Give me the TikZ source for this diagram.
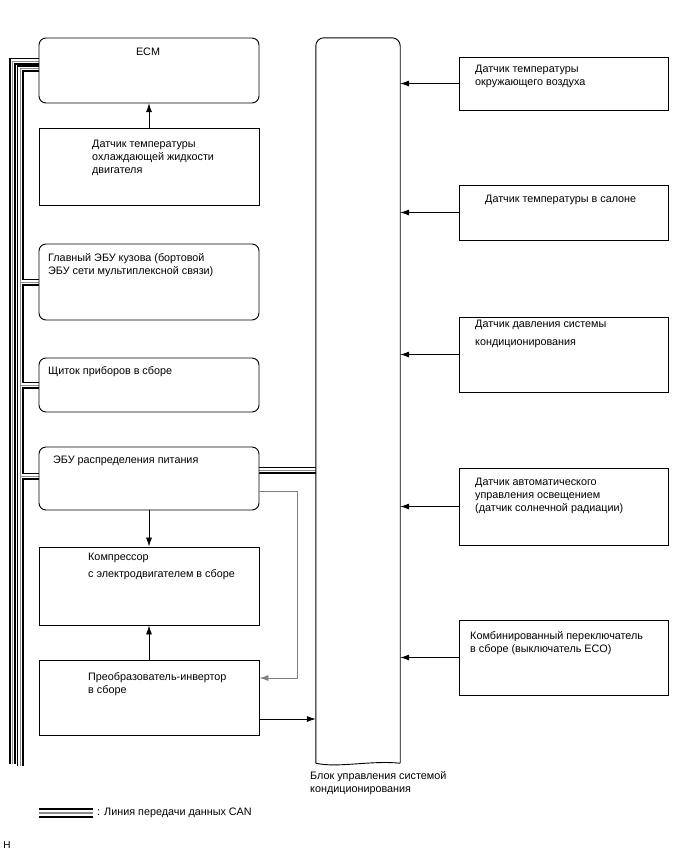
\documentclass[tikz,border=0pt]{standalone}
\usepackage{fontspec}
\setmainfont{Liberation Sans}
\usetikzlibrary{arrows.meta,calc}
\begin{document}
\begin{tikzpicture}[x=1pt,y=-1pt,
  box/.style={draw, line width=0.9pt, fill=white, inner sep=0, minimum width=220pt},
  rbox/.style={box, rounded corners=7pt},
  sbox/.style={draw, line width=0.9pt, fill=white, inner sep=0, minimum width=209pt},
  lbl/.style={anchor=north west, inner sep=0, align=left, font=\fontsize{10.8}{13}\selectfont},
  arr/.style={line width=0.8pt, -{Latex[length=9pt,width=6pt]}},
  garr/.style={line width=0.8pt, draw=black!50, -{Latex[length=9pt,width=6pt]}},
  canline/.style={line width=7pt, black, line join=miter,
     postaction={draw, white, line width=3.4pt, line join=miter},
     postaction={draw, black!45, line width=1pt, line join=miter}},
  legendline/.style={line width=9.4pt, black,
     postaction={draw, white, line width=5.4pt},
     postaction={draw, black!45, line width=1.4pt}},
]
\useasboundingbox[fill=white] (0,0) rectangle (688,852);

% reference nodes (positions only)
\node[inner sep=0, minimum width=220pt, minimum height=65pt] (ecm) at (149,70.5) {};
\node[inner sep=0, minimum width=220pt, minimum height=76pt] (body) at (149,282) {};
\node[inner sep=0, minimum width=220pt, minimum height=54pt] (meter) at (149,385) {};
\node[inner sep=0, minimum width=220pt, minimum height=63pt] (pdu) at (149,478.5) {};
\node[inner sep=0, minimum width=84pt, minimum height=725pt] (ac) at (358,400.5) {};

\coordinate (busO) at (12.5,0);
\coordinate (busI) at (20,0);
\coordinate (endO) at (12.5,764);
\coordinate (endI) at (20,766);
\coordinate (pdL) at ([yshift=2.5pt]pdu.west);
\coordinate (pdR) at ([yshift=8.5pt]pdu.east);

% CAN buses
\draw[canline] ([yshift=9.5pt]ecm.west) -| (endO)
  ([yshift=2pt]ecm.west) -| (endI)
  (body.west) -- (busI |- body.west)
  (meter.west) -- (busI |- meter.west)
  (pdL) -- (busI |- pdL)
  (pdR) -- (ac.west |- pdR);

% boxes
\node[rbox, minimum height=65pt] at (ecm) {};
\node[box, minimum height=77pt] (cool) at (149,166.5) {};
\node[rbox, minimum height=76pt] at (body) {};
\node[rbox, minimum height=54pt] at (meter) {};
\node[rbox, minimum height=63pt] at (pdu) {};
\node[box, minimum height=78pt] (comp) at (149,586) {};
\node[box, minimum height=75pt] (inv) at (149,697.5) {};

\node[sbox, minimum height=53pt] (amb) at (563.5,83.5) {};
\node[sbox, minimum height=55pt] (cab) at (563.5,212.5) {};
\node[sbox, minimum height=75pt] (prs) at (563.5,354.5) {};
\node[sbox, minimum height=77pt] (sol) at (563.5,506.5) {};
\node[sbox, minimum height=75pt] (sw) at (563.5,657.5) {};

% A/C amplifier
\draw[line width=0.9pt, rounded corners=8pt] (ac.south west) -- (ac.north west) -- (ac.north east) -- (ac.south east);
\draw[line width=0.9pt] (ac.south west) .. controls +(22,5) and +(-30,-3) .. (ac.south east);

% arrows
\draw[arr] (cool.north) -- (ecm.south);
\draw[arr] (pdu.south) -- (comp.north);
\draw[arr] (inv.north) -- (comp.south);
\coordinate (invR) at ([yshift=-21.5pt]inv.east);
\draw[arr] (invR) -- (ac.west |- invR);
\coordinate (pdG) at ([yshift=-12.5pt]pdu.east);
\coordinate (invG) at ([yshift=19.5pt]inv.east);
\coordinate (gx) at (297,0);
\draw[garr] (pdG) -- (gx |- pdG) -- (gx |- invG) -- (invG);

\foreach \s in {amb,cab,prs,sol,sw}
  \draw[arr] (\s.west) -- (ac.east |- \s.west);

% labels
\node[lbl, anchor=center] (tecm) at (148,52) {ECM};
\node[lbl] (tcool) at (92,140) {Датчик температуры\\охлаждающей жидкости\\двигателя};
\node[lbl] (tbody) at (48,253) {Главный ЭБУ кузова (бортовой\\ЭБУ сети мультиплексной связи)};
\node[lbl] (tmeter) at (48,366) {Щиток приборов в сборе};
\node[lbl] (tpdu) at (53,456) {ЭБУ распределения питания};
\node[lbl] (tcomp) at (88,553) {Компрессор\\[4pt]с электродвигателем в сборе};
\node[lbl] (tinv) at (88,672) {Преобразователь-инвертор\\в сборе};
\node[lbl] (tamb) at (475,65) {Датчик температуры\\окружающего воздуха};
\node[lbl] (tcab) at (485,195) {Датчик температуры в салоне};
\node[lbl] (tprs) at (475,320) {Датчик давления системы\\[5pt]кондиционирования};
\node[lbl] (tsol) at (475,478) {Датчик автоматического\\управления освещением\\(датчик солнечной радиации)};
\node[lbl] (tsw) at (470,631) {Комбинированный переключатель\\в сборе (выключатель ECO)};
\node[lbl] (tac) at (310,771) {Блок управления системой\\кондиционирования};

% legend
\coordinate (lg1) at (39,813);
\coordinate (lg2) at (93,813);
\draw[legendline] (lg1) -- (lg2);
\node[lbl, anchor=west] (tleg) at (97,813) {: Линия передачи данных CAN};
\node[lbl, anchor=center, font=\fontsize{10}{12}\selectfont] (th) at (7,845) {H};
\end{tikzpicture}
\end{document}
